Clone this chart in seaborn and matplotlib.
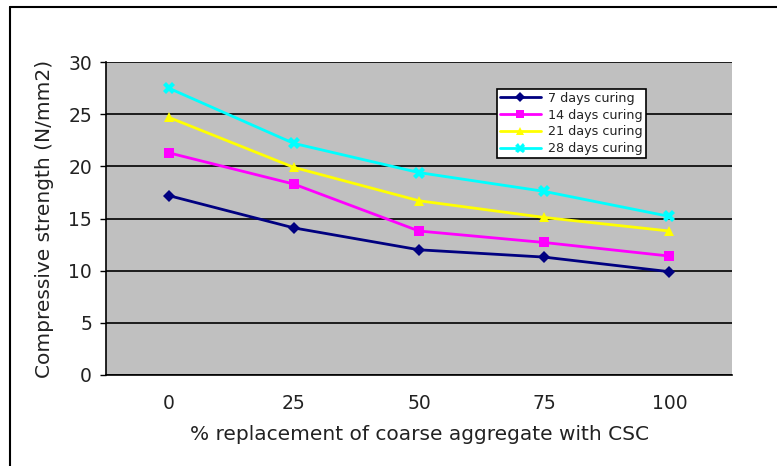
import matplotlib
matplotlib.use("Agg")
import matplotlib.pyplot as plt
import seaborn as sns
import pandas as pd
from matplotlib.lines import Line2D

categories = ["0", "25", "50", "75", "100"]
series_names = ["7 days curing", "14 days curing", "21 days curing", "28 days curing"]
days7 = [17.2, 14.1, 12.0, 11.3, 9.9]
days14 = [21.3, 18.3, 13.8, 12.7, 11.4]
days21 = [24.7, 19.9, 16.7, 15.1, 13.8]
days28 = [27.5, 22.2, 19.4, 17.6, 15.2]
yticks = [0, 5, 10, 15, 20, 25, 30]

rows = []
for name, vals in zip(series_names, [days7, days14, days21, days28]):
    for i, v in enumerate(vals):
        rows.append({"pos": i, "val": v, "series": name})
df = pd.DataFrame(rows)

sns.set_theme(style="white")
plt.rcParams['font.family'] = ['DejaVu Sans']
plt.rcParams['text.color'] = '#222222'
plt.rcParams['axes.labelcolor'] = '#222222'
plt.rcParams['xtick.color'] = '#222222'
plt.rcParams['ytick.color'] = '#222222'

fig = plt.figure(figsize=(7.77, 4.66), dpi=100)
ax = fig.add_axes([106/777, 1-375/466, 626/777, 313/466])
ax.set_facecolor("#C0C0C0")

palette = {series_names[0]: "#000080", series_names[1]: "#FF00FF",
           series_names[2]: "#FFFF00", series_names[3]: "#00FFFF"}
markers = {series_names[0]: "D", series_names[1]: "s",
           series_names[2]: "^", series_names[3]: "X"}
sizes = {series_names[0]: 6, series_names[1]: 7, series_names[2]: 7, series_names[3]: 9}

for name in series_names:
    sub = df[df.series == name]
    sns.lineplot(data=sub, x="pos", y="val", color=palette[name], marker=markers[name],
                 markersize=sizes[name], markeredgewidth=0, linewidth=2, ax=ax,
                 label=name, zorder=3)

ax.set_xlim(-0.5, 4.5)
ax.set_ylim(0, 30)
ax.set_yticks(yticks)
ax.set_yticklabels([str(t) for t in yticks], fontsize=13.5)
ax.yaxis.grid(True, color="black", linewidth=1.2)
ax.set_axisbelow(True)
ax.set_xticks(range(len(categories)))
ax.set_xticklabels(categories, fontsize=13.5)
ax.set_xticks([i - 0.5 for i in range(len(categories) + 1)], minor=True)
ax.tick_params(axis="x", which="major", length=0, pad=14)
ax.tick_params(axis="x", which="minor", length=4, width=1, direction="out", color="black")
ax.tick_params(axis="y", length=4, width=1, direction="out", color="black", left=True, pad=6)
for s in ["top", "right"]:
    ax.spines[s].set_visible(False)
for s in ["left", "bottom"]:
    ax.spines[s].set_color("black")
    ax.spines[s].set_linewidth(1.2)

ax.set_xlabel("% replacement of coarse aggregate with CSC", fontsize=14.5, labelpad=8)
ax.set_ylabel("Compressive strength (N/mm2)", fontsize=14.5, labelpad=10)

leg = ax.legend(loc="upper left", bbox_to_anchor=(0.624, 0.915), fontsize=9.2,
                frameon=True, fancybox=False, edgecolor="black", framealpha=1,
                borderpad=0.25, labelspacing=0.3, handlelength=3.2, handletextpad=0.6,
                borderaxespad=0, markerscale=0.8)
leg.get_frame().set_linewidth(1.2)

fig.add_artist(Line2D([10/777, 10/777], [0, 1 - 7/466], transform=fig.transFigure,
                      color="black", linewidth=1.5))
fig.add_artist(Line2D([10/777, 1], [1 - 7/466, 1 - 7/466], transform=fig.transFigure,
                      color="black", linewidth=1.5))

fig.savefig("out.png", dpi=100)
